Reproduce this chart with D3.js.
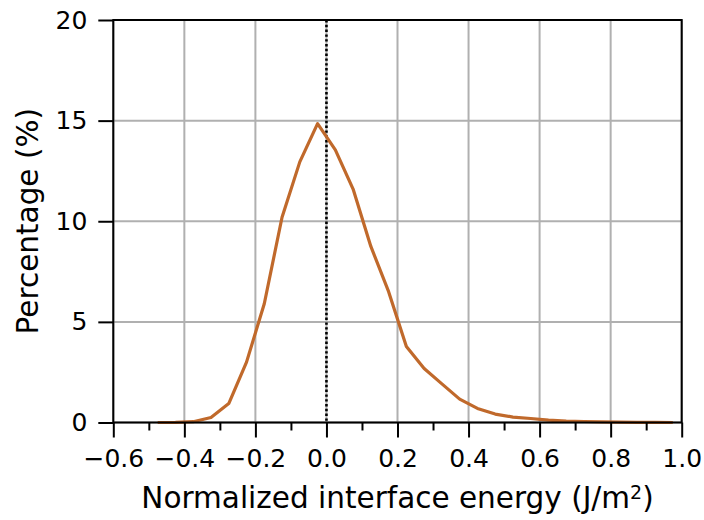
<!DOCTYPE html>
<meta charset="utf-8">
<style>
    body { margin: 0; background: #fff; }
    svg text { font-family: "DejaVu Sans", sans-serif; fill: #000; }
</style>
<svg width="704" height="520"></svg>
<script src="https://d3js.org/d3.v7.min.js"></script>
<script>
// interface energy bin centres (J/m^2) and share of interfaces (%)
var energy = [-0.475, -0.425, -0.375, -0.325, -0.275, -0.225, -0.175, -0.125, -0.075, -0.025,
              0.025, 0.075, 0.125, 0.175, 0.225, 0.275, 0.325, 0.375, 0.425, 0.475,
              0.525, 0.575, 0.625, 0.675, 0.725, 0.775, 0.825, 0.875, 0.925, 0.975];
var percent = [0.0, 0.01, 0.04, 0.25, 0.94, 3.0, 5.9, 10.2, 12.95, 14.85,
               13.55, 11.6, 8.75, 6.5, 3.78, 2.68, 1.92, 1.16, 0.7, 0.42,
               0.27, 0.2, 0.12, 0.07, 0.05, 0.03, 0.02, 0.01, 0.01, 0.0];
var xTicks = [-0.6, -0.4, -0.2, 0.0, 0.2, 0.4, 0.6, 0.8, 1.0];
var xMinor = [-0.5, -0.3, -0.1, 0.1, 0.3, 0.5, 0.7, 0.9];
var yTicks = [0, 5, 10, 15, 20];

var svg = d3.select("svg"),
    margin = {top: 20, left: 113.3, right: 22.3, bottom: 97.5},
    width = +svg.attr("width") - margin.left - margin.right,
    height = +svg.attr("height") - margin.top - margin.bottom;

var x = d3.scaleLinear().domain([-0.6, 1.0]).range([0, width]);
var y = d3.scaleLinear().domain([0, 20]).range([height, 0]);

var g = svg.append("g")
    .attr("transform", "translate(" + margin.left + "," + margin.top + ")");

// grid
g.append("g").selectAll("line").data(xTicks).enter().append("line")
    .attr("x1", d => x(d)).attr("x2", d => x(d))
    .attr("y1", 0).attr("y2", height)
    .attr("stroke", "#b0b0b0").attr("stroke-width", 2);
g.append("g").selectAll("line").data(yTicks).enter().append("line")
    .attr("x1", 0).attr("x2", width)
    .attr("y1", d => y(d)).attr("y2", d => y(d))
    .attr("stroke", "#b0b0b0").attr("stroke-width", 2);

// zero reference
g.append("line")
    .attr("x1", x(0)).attr("x2", x(0))
    .attr("y1", 0).attr("y2", height)
    .attr("stroke", "#000").attr("stroke-width", 2.6)
    .attr("stroke-dasharray", "2.4,2.4");

var line = d3.line()
    .x((d, i) => x(energy[i]))
    .y(d => y(d));

g.append("path").datum(percent)
    .attr("fill", "none")
    .attr("stroke", "#c0692b")
    .attr("stroke-width", 3.2)
    .attr("stroke-linejoin", "round")
    .attr("d", line);

// axes
var xAxis = g.append("g")
    .attr("transform", "translate(0," + height + ")")
    .call(d3.axisBottom(x).tickValues(xTicks).tickFormat(d3.format(".1f"))
        .tickSize(15).tickPadding(12));
var xMinorAxis = g.append("g")
    .attr("transform", "translate(0," + height + ")")
    .call(d3.axisBottom(x).tickValues(xMinor).tickFormat("").tickSize(8));
var yAxis = g.append("g")
    .call(d3.axisLeft(y).tickValues(yTicks).tickSize(15).tickPadding(11));

[xAxis, xMinorAxis, yAxis].forEach(a => {
    a.select(".domain").remove();
    a.selectAll(".tick line").attr("stroke", "#000").attr("stroke-width", 2);
    a.selectAll("text").style("font-size", "25px");
});

// spines
g.append("rect")
    .attr("width", width).attr("height", height)
    .attr("fill", "none").attr("stroke", "#000").attr("stroke-width", 2);

// labels
var xl = svg.append("text")
    .attr("x", margin.left + width / 2)
    .attr("y", 508)
    .attr("text-anchor", "middle")
    .style("font-size", "29.5px")
    .text("Normalized interface energy (J/m");
xl.append("tspan").attr("dy", "-0.5em").style("font-size", "19px").text("2");
xl.append("tspan").attr("dy", "0.32em").text(")");

svg.append("text")
    .attr("transform", "translate(38," + (margin.top + height / 2) + ") rotate(-90)")
    .attr("text-anchor", "middle")
    .style("font-size", "29.5px")
    .text("Percentage (%)");
</script>
